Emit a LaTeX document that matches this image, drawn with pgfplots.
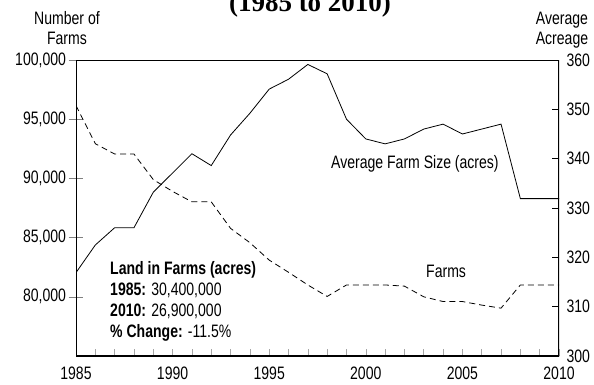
\documentclass[border=0pt]{standalone}
\usepackage{pgfplots}
\pgfplotsset{compat=1.18}
\usepackage{fontspec}
\setmainfont{Liberation Sans}[FakeStretch=0.78]
\newfontfamily\titlefont{Liberation Serif}

% farms (left axis) and average farm size (right axis)
\pgfplotstableread{
year farms
1985 96150
1986 92930
1987 92060
1988 92060
1989 89900
1990 88900
1991 88020
1992 88020
1993 85780
1994 84570
1995 83100
1996 82070
1997 81000
1998 80030
1999 81000
2000 81000
2001 81000
2002 80900
2003 80000
2004 79600
2005 79600
2006 79300
2007 79040
2008 81000
2009 81000
2010 81000
}\farms

\pgfplotstableread{
year acres
1985 316.9
1986 322.5
1987 326.0
1988 326.0
1989 333.2
1990 337.1
1991 341.0
1992 338.6
1993 344.8
1994 349.2
1995 354.1
1996 356.1
1997 359.1
1998 357.2
1999 348.0
2000 344.0
2001 343.0
2002 344.0
2003 346.0
2004 347.0
2005 345.0
2006 346.0
2007 347.0
2008 331.9
2009 331.9
2010 331.9
}\size

\begin{document}
\begin{tikzpicture}[font=\fontsize{18}{21}\selectfont]
\useasboundingbox (0,0) rectangle (594pt,-385pt);
\pgfplotsset{
  every axis/.append style={
    at={(76pt,-356pt)}, anchor=south west,
    width=483pt, height=296pt, scale only axis,
    xmin=1985, xmax=2010,
    axis line style={draw=none},
    /pgf/number format/assume math mode=true,
  }
}

% left axis: number of farms
\begin{axis}[
  ymin=75000, ymax=100000,
  ytick={80000,85000,90000,95000,100000},
  yticklabels={{80,000},{85,000},{90,000},{95,000},{100,000}},
  scaled y ticks=false,
  ytick pos=left, xtick=\empty,
  tick align=center, major tick length=15pt,
  tick style={gray, line width=0.6pt},
  yticklabel style={xshift=1pt},
]
\addplot[black, line width=0.8pt, dash pattern=on 6pt off 4pt] table[x=year, y=farms] {\farms};
\end{axis}

% right axis: average acreage
\begin{axis}[
  ymin=300, ymax=360,
  ytick={300,310,...,360},
  ytick pos=right, yticklabel pos=right,
  xtick={1985,1990,...,2010}, minor x tick num=4, xtick pos=bottom,
  tick align=inside, major tick length=7pt, minor tick length=7pt,
  x tick style={gray!70, line width=0.6pt},
  y tick style={black, line width=0.8pt},
  extra y ticks={320,340}, extra y tick labels={},
  extra y tick style={tick style={black, line width=1.8pt}},
  xticklabel style={/pgf/number format/1000 sep=, yshift=-7pt},
  yticklabel style={anchor=west, xshift=4pt},
]
\addplot[black, line width=0.8pt] table[x=year, y=acres] {\size};
\draw[line width=1pt] (rel axis cs:0,1) -- (rel axis cs:1,1);
\draw[line width=1.5pt] (rel axis cs:1,0) -- (rel axis cs:1,1);
\draw[line width=2.2pt, line cap=rect] (rel axis cs:0,1) -- (rel axis cs:0,0) -- (rel axis cs:1,0);
\end{axis}

\node[anchor=base, inner sep=0] at (310pt,-12pt) {\titlefont\bfseries\fontsize{27}{30}\selectfont (1985 to 2010)};
\node[anchor=base, inner sep=0] at (67pt,-25pt) {Number of};
\node[anchor=base, inner sep=0] at (67pt,-45pt) {Farms};
\node[anchor=base, inner sep=0] at (562pt,-25pt) {Average};
\node[anchor=base, inner sep=0] at (562pt,-45pt) {Acreage};
\node[anchor=base west, inner sep=0] at (331pt,-168pt) {Average Farm Size (acres)};
\node[anchor=base west, inner sep=0] at (426pt,-277pt) {Farms};
\node[anchor=base west, inner sep=0] at (110pt,-274pt) {\bfseries Land in Farms (acres)};
\node[anchor=base west, inner sep=0] at (110pt,-295pt) {\textbf{1985:} 30,400,000};
\node[anchor=base west, inner sep=0] at (110pt,-316pt) {\textbf{2010:} 26,900,000};
\node[anchor=base west, inner sep=0] at (110pt,-337pt) {\textbf{\% Change:} -11.5\%};
\end{tikzpicture}
\end{document}
